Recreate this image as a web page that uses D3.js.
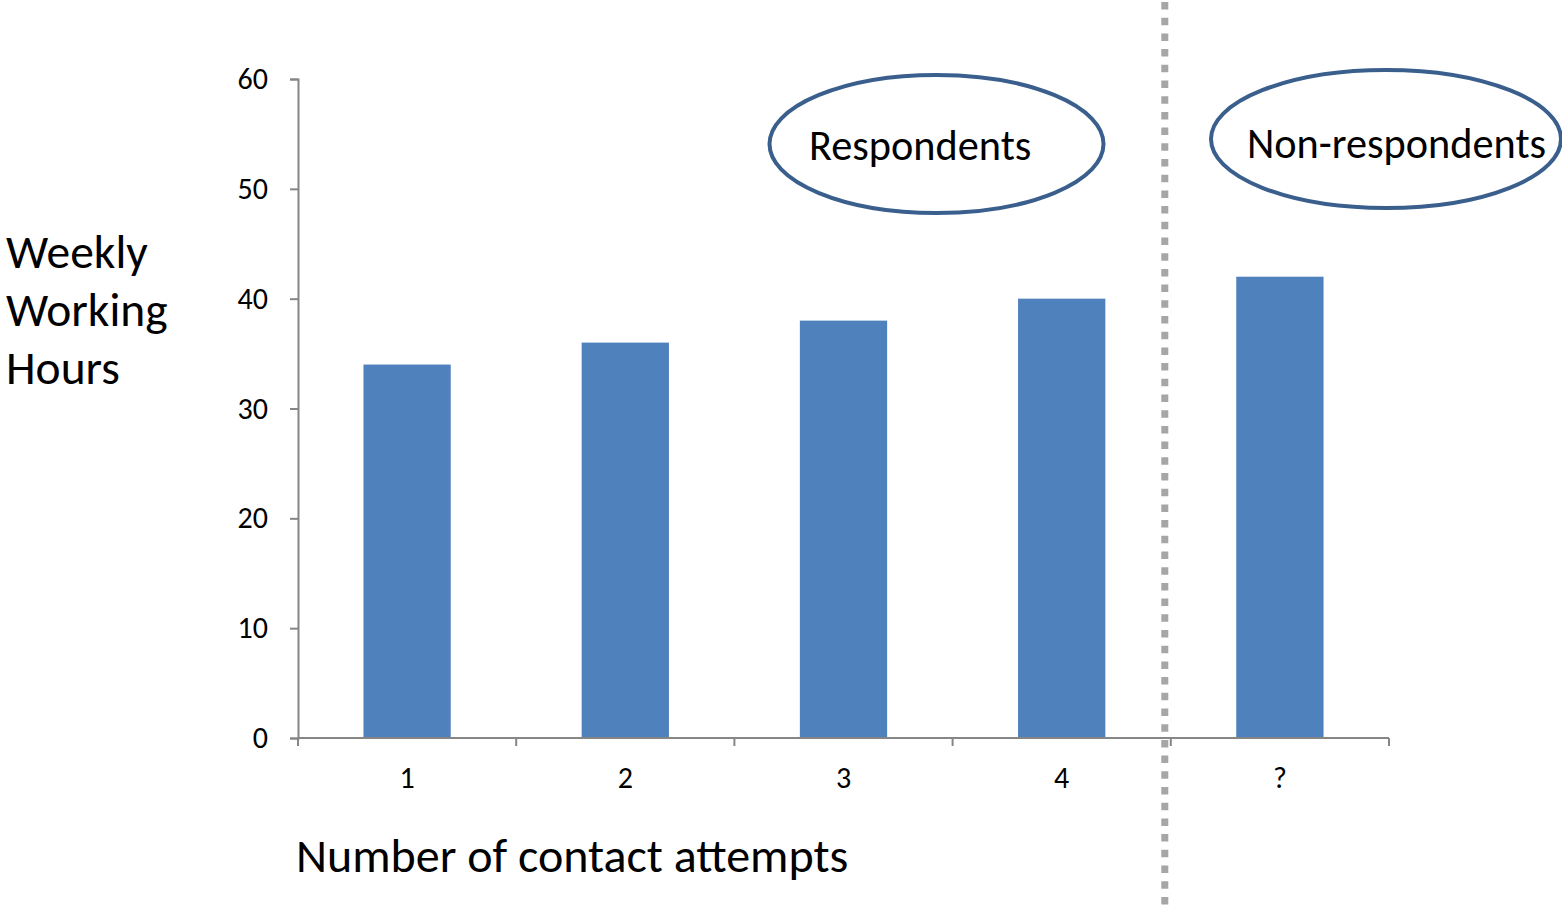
<!DOCTYPE html>
<html>
<head>
<meta charset="utf-8">
<script src="https://cdn.jsdelivr.net/npm/d3@7"></script>
<style>
  body { margin: 0; background: #fff; }
  svg { display: block; font-family: Carlito, Lato, sans-serif; }
  .axis path, .axis line { stroke: #868686; stroke-width: 2px; }
  .axis text { fill: #000; font-size: 30px; font-family: Carlito, Lato, sans-serif; }
</style>
</head>
<body>
<svg id="chart" width="1562" height="908"></svg>
<script>
// data
var attempts = ["1", "2", "3", "4", "?"];
var hours = [34, 36, 38, 40, 42];
var yTicks = [0, 10, 20, 30, 40, 50, 60];
var groups = ["Respondents", "Non-respondents"];

var svg = d3.select("#chart"),
    margin = {top: 79, right: 173, bottom: 170, left: 298},
    width = +svg.attr("width") - margin.left - margin.right,
    height = +svg.attr("height") - margin.top - margin.bottom;

var x = d3.scaleBand().domain(attempts).range([0, width])
    .paddingInner(0.6).paddingOuter(0.3);
var y = d3.scaleLinear().domain([0, 60]).range([height, 0]);

var g = svg.append("g")
    .attr("transform", "translate(" + margin.left + "," + margin.top + ")");

// bars
g.selectAll(".bar")
  .data(hours)
  .enter().append("rect")
    .attr("class", "bar")
    .attr("x", function(d, i) { return x(attempts[i]); })
    .attr("y", function(d) { return y(d); })
    .attr("width", x.bandwidth())
    .attr("height", function(d) { return height - y(d); })
    .attr("fill", "#4F81BD");

// y axis
g.append("g")
    .attr("class", "axis axis--y")
    .call(d3.axisLeft(y).tickValues(yTicks).tickSize(8).tickPadding(22));

// x axis, ticks between categories
var step = x.step();
var xAx = g.append("g")
    .attr("class", "axis axis--x")
    .attr("transform", "translate(0," + height + ")");
xAx.append("path").attr("d", "M0,0H" + width);
xAx.selectAll(".sep")
  .data(d3.range(attempts.length + 1))
  .enter().append("line")
    .attr("x1", function(i) { return i * step; })
    .attr("x2", function(i) { return i * step; })
    .attr("y1", 0).attr("y2", 8);
xAx.selectAll(".lbl")
  .data(attempts)
  .enter().append("text")
    .attr("x", function(d) { return x(d) + x.bandwidth() / 2; })
    .attr("y", 50)
    .attr("text-anchor", "middle")
    .text(function(d) { return d; });

// divider between respondents and non-respondents
var divX = margin.left + x("?") - x.paddingOuter() * step - 6;
svg.append("line")
    .attr("x1", divX).attr("x2", divX)
    .attr("y1", 2).attr("y2", 908)
    .attr("stroke", "#A6A6A6")
    .attr("stroke-width", 7)
    .attr("stroke-dasharray", "7.5 8.2");

// axis titles
svg.append("text")
    .attr("x", 296).attr("y", 872)
    .style("font-size", "48px")
    .text("Number of contact attempts");

var yt = svg.append("text")
    .attr("x", 6).attr("y", 268)
    .style("font-size", "47.5px");
["Weekly", "Working", "Hours"].forEach(function(s, i) {
  yt.append("tspan").attr("x", 6).attr("dy", i ? 58 : 0).text(s);
});

// group ellipses
var ell = [
  {cx: 936.5, cy: 144, rx: 167, ry: 69, tx: 809, ty: 160},
  {cx: 1386, cy: 139, rx: 175, ry: 69, tx: 1247, ty: 158}
];
ell.forEach(function(e, i) {
  svg.append("ellipse")
      .attr("cx", e.cx).attr("cy", e.cy)
      .attr("rx", e.rx).attr("ry", e.ry)
      .attr("fill", "none")
      .attr("stroke", "#3A5F8D")
      .attr("stroke-width", 4);
  svg.append("text")
      .attr("x", e.tx).attr("y", e.ty)
      .style("font-size", "42.3px")
      .text(groups[i]);
});
</script>
</body>
</html>
